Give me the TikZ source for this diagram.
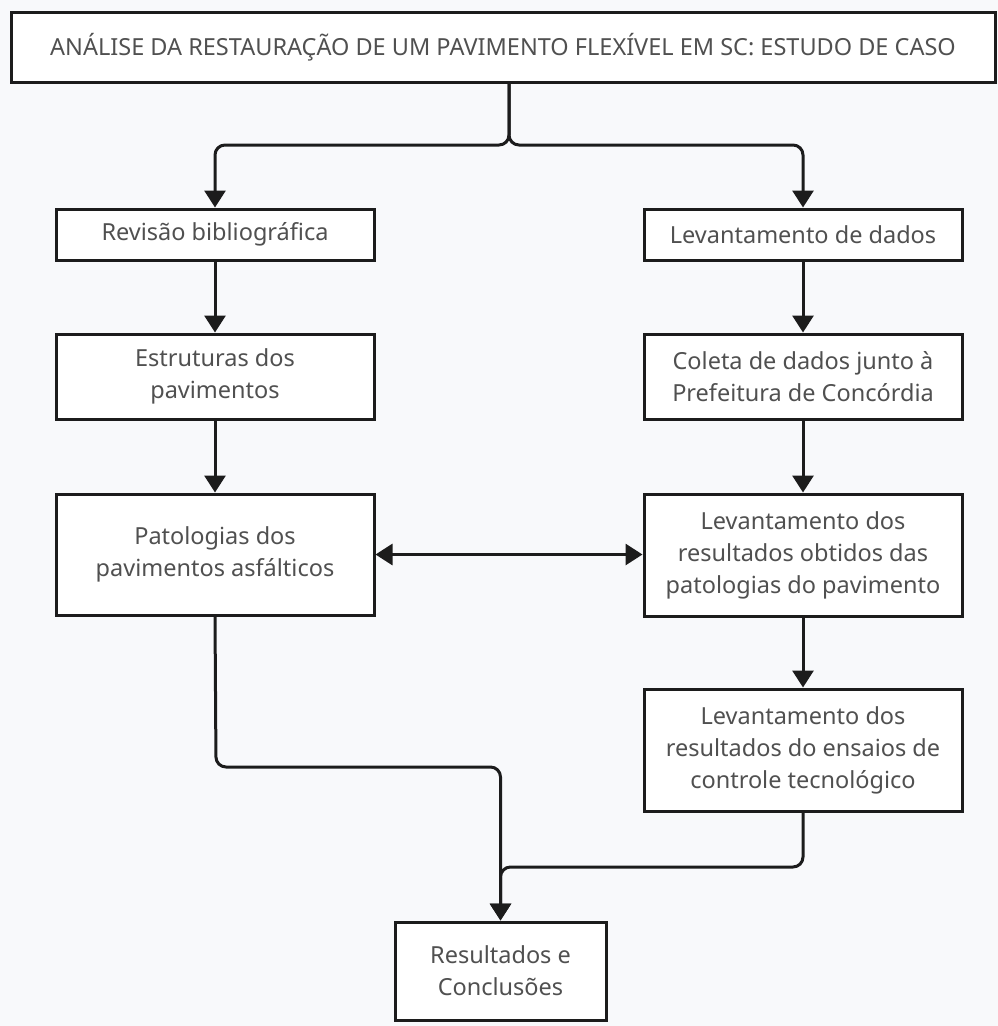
\documentclass[tikz,border=0pt]{standalone}
\usepackage{fontspec}
\setmainfont{Noto Sans}
\usetikzlibrary{arrows.meta}
\definecolor{bgc}{HTML}{F8F9FB}
\definecolor{linec}{HTML}{1C1C1C}
\definecolor{txtc}{HTML}{505050}
\begin{document}
\begin{tikzpicture}[x=1pt,y=-1pt,
  box/.style={draw=linec, line width=3pt, fill=white, inner sep=0pt, align=center,
    text=txtc, font=\fontsize{23.5}{32}\selectfont},
  conn/.style={draw=linec, line width=3pt, rounded corners=10pt,
    -{Triangle[width=21pt,length=17pt]}},
  dconn/.style={draw=linec, line width=3pt,
    {Triangle[width=21pt,length=17pt]}-{Triangle[width=21pt,length=17pt]}}
]
\fill[bgc] (0,0) rectangle (998,1026);
\useasboundingbox (0,0) rectangle (998,1026);

\node[box, minimum width=984pt, minimum height=70pt] (title) at (503,47.5)
  {ANÁLISE DA RESTAURAÇÃO DE UM PAVIMENTO FLEXÍVEL EM SC: ESTUDO DE CASO};

\node[box, minimum width=318pt, minimum height=51pt] (rev) at (215,234.5) {Revisão bibliográfica};
\node[box, minimum width=318pt, minimum height=51pt] (lev) at (803,234.5) {Levantamento de dados};
\node[box, minimum width=318pt, minimum height=85pt] (est) at (215,376.5) {Estruturas dos\\pavimentos};
\node[box, minimum width=318pt, minimum height=85pt] (col) at (803,376.5) {Coleta de dados junto à\\Prefeitura de Concórdia};
\node[box, minimum width=318pt, minimum height=121pt] (pat) at (215,554.5) {Patologias dos\\pavimentos asfálticos};
\node[box, minimum width=318pt, minimum height=122pt] (obt) at (803,555) {Levantamento dos\\resultados obtidos das\\patologias do pavimento};
\node[box, minimum width=318pt, minimum height=122pt] (ens) at (803,750) {Levantamento dos\\resultados do ensaios de\\controle tecnológico};
\node[box, minimum width=211pt, minimum height=98pt] (res) at (500.5,971) {Resultados e\\Conclusões};

\coordinate (top) at (509,83);
\coordinate (split) at (509,145);
\coordinate (lbend) at (216,767);
\coordinate (rbend) at (803,867);

\draw[conn] (top) |- (split -| rev.north) -- (rev.north);
\draw[conn] (top) |- (split -| lev.north) -- (lev.north);
\draw[conn] (rev) -- (est);
\draw[conn] (lev) -- (col);
\draw[conn] (est) -- (pat);
\draw[conn] (col) -- (obt);
\draw[conn] (obt) -- (ens);
\draw[dconn] (pat.east) -- (pat.east -| obt.west);
\draw[conn] (pat.south) -- (lbend) -| (res.north);
\draw[conn] (ens.south) -- (rbend) -| (res.north);
\end{tikzpicture}
\end{document}
